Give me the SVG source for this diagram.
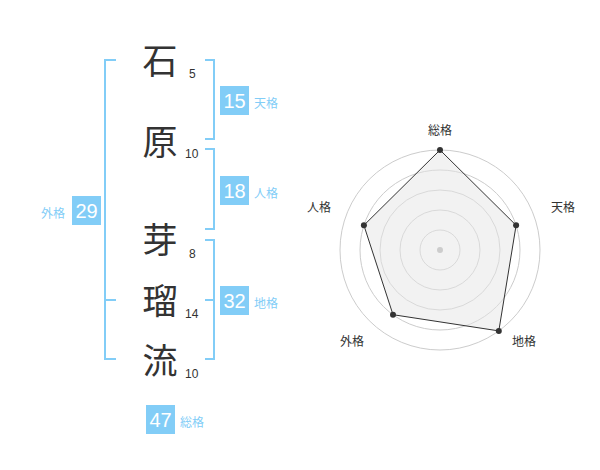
<svg xmlns="http://www.w3.org/2000/svg" width="600" height="470" viewBox="0 0 600 470">
<style>
.ch{font-family:"Noto Sans CJK JP","Noto Sans CJK SC",sans-serif;font-size:35px;fill:#333;text-anchor:middle}
.num{font-family:"Liberation Sans",Arial,sans-serif;font-size:12px;fill:#333}
.br{fill:none;stroke:#82cdf7;stroke-width:2}
.box{fill:#82cdf7}
.bn{font-family:"Liberation Sans",Arial,sans-serif;font-size:20px;fill:#fff;text-anchor:middle}
.bl{font-family:"Noto Sans CJK JP","Noto Sans CJK SC",sans-serif;font-size:12px;fill:#82cdf7}
.ring{fill:none;stroke:#ccc;stroke-width:1}
.rl{font-family:"Noto Sans CJK JP","Noto Sans CJK SC",sans-serif;font-size:12px;fill:#333;text-anchor:middle}
.pt{fill:#333}
</style>
<rect width="600" height="470" fill="#fff"/>
<g id="chars">
<text class="ch" x="160" y="74">石</text>
<text class="ch" x="160" y="155">原</text>
<text class="ch" x="160" y="253">芽</text>
<text class="ch" x="160" y="314">瑠</text>
<text class="ch" x="160" y="374">流</text>
<text class="num" x="189" y="78">5</text>
<text class="num" x="185" y="158">10</text>
<text class="num" x="189" y="258">8</text>
<text class="num" x="185" y="318">14</text>
<text class="num" x="185" y="378">10</text>
</g>
<g id="connectors">
<polyline class="br" points="116,60 105,60 105,359 116,359"/>
<line class="br" x1="105" y1="300" x2="116" y2="300"/>
<polyline class="br" points="205,60 214,60 214,139 205,139"/>
<polyline class="br" points="205,149 214,149 214,229 205,229"/>
<polyline class="br" points="205,240 214,240 214,359 205,359"/>
<line class="br" x1="205" y1="300" x2="214" y2="300"/>
</g>
<g id="tenkaku">
<rect class="box" x="220" y="86" width="29" height="29"/>
<text class="bn" x="234.5" y="107.5">15</text>
<text class="bl" x="254" y="108">天格</text>
</g>
<g id="jinkaku">
<rect class="box" x="220" y="176" width="29" height="29"/>
<text class="bn" x="234.5" y="197.5">18</text>
<text class="bl" x="254" y="198">人格</text>
</g>
<g id="gaikaku">
<rect class="box" x="72" y="196" width="29" height="29"/>
<text class="bn" x="86.5" y="217.5">29</text>
<text class="bl" x="41" y="218">外格</text>
</g>
<g id="chikaku">
<rect class="box" x="220" y="286" width="29" height="29"/>
<text class="bn" x="234.5" y="307.5">32</text>
<text class="bl" x="254" y="308">地格</text>
</g>
<g id="soukaku">
<rect class="box" x="146" y="405" width="29" height="29"/>
<text class="bn" x="160.5" y="426.5">47</text>
<text class="bl" x="180" y="427">総格</text>
</g>
<g id="radar">
<circle class="ring" cx="440" cy="250" r="20"/>
<circle class="ring" cx="440" cy="250" r="40"/>
<circle class="ring" cx="440" cy="250" r="60"/>
<circle class="ring" cx="440" cy="250" r="80"/>
<circle class="ring" cx="440" cy="250" r="100"/>
<polygon points="440,150 516.1,225.3 498.8,330.9 393,314.7 363.9,225.3" fill="#e6e6e6" fill-opacity="0.5" stroke="#333" stroke-width="1"/>
<circle cx="440" cy="250" r="3" fill="#ccc"/>
<circle class="pt" cx="440" cy="150" r="3"/>
<circle class="pt" cx="516.1" cy="225.3" r="3"/>
<circle class="pt" cx="498.8" cy="330.9" r="3"/>
<circle class="pt" cx="393" cy="314.7" r="3"/>
<circle class="pt" cx="363.9" cy="225.3" r="3"/>
<text class="rl" x="440" y="135">総格</text>
<text class="rl" x="563" y="212">天格</text>
<text class="rl" x="319" y="212">人格</text>
<text class="rl" x="352" y="346">外格</text>
<text class="rl" x="524" y="346">地格</text>
</g>
</svg>
